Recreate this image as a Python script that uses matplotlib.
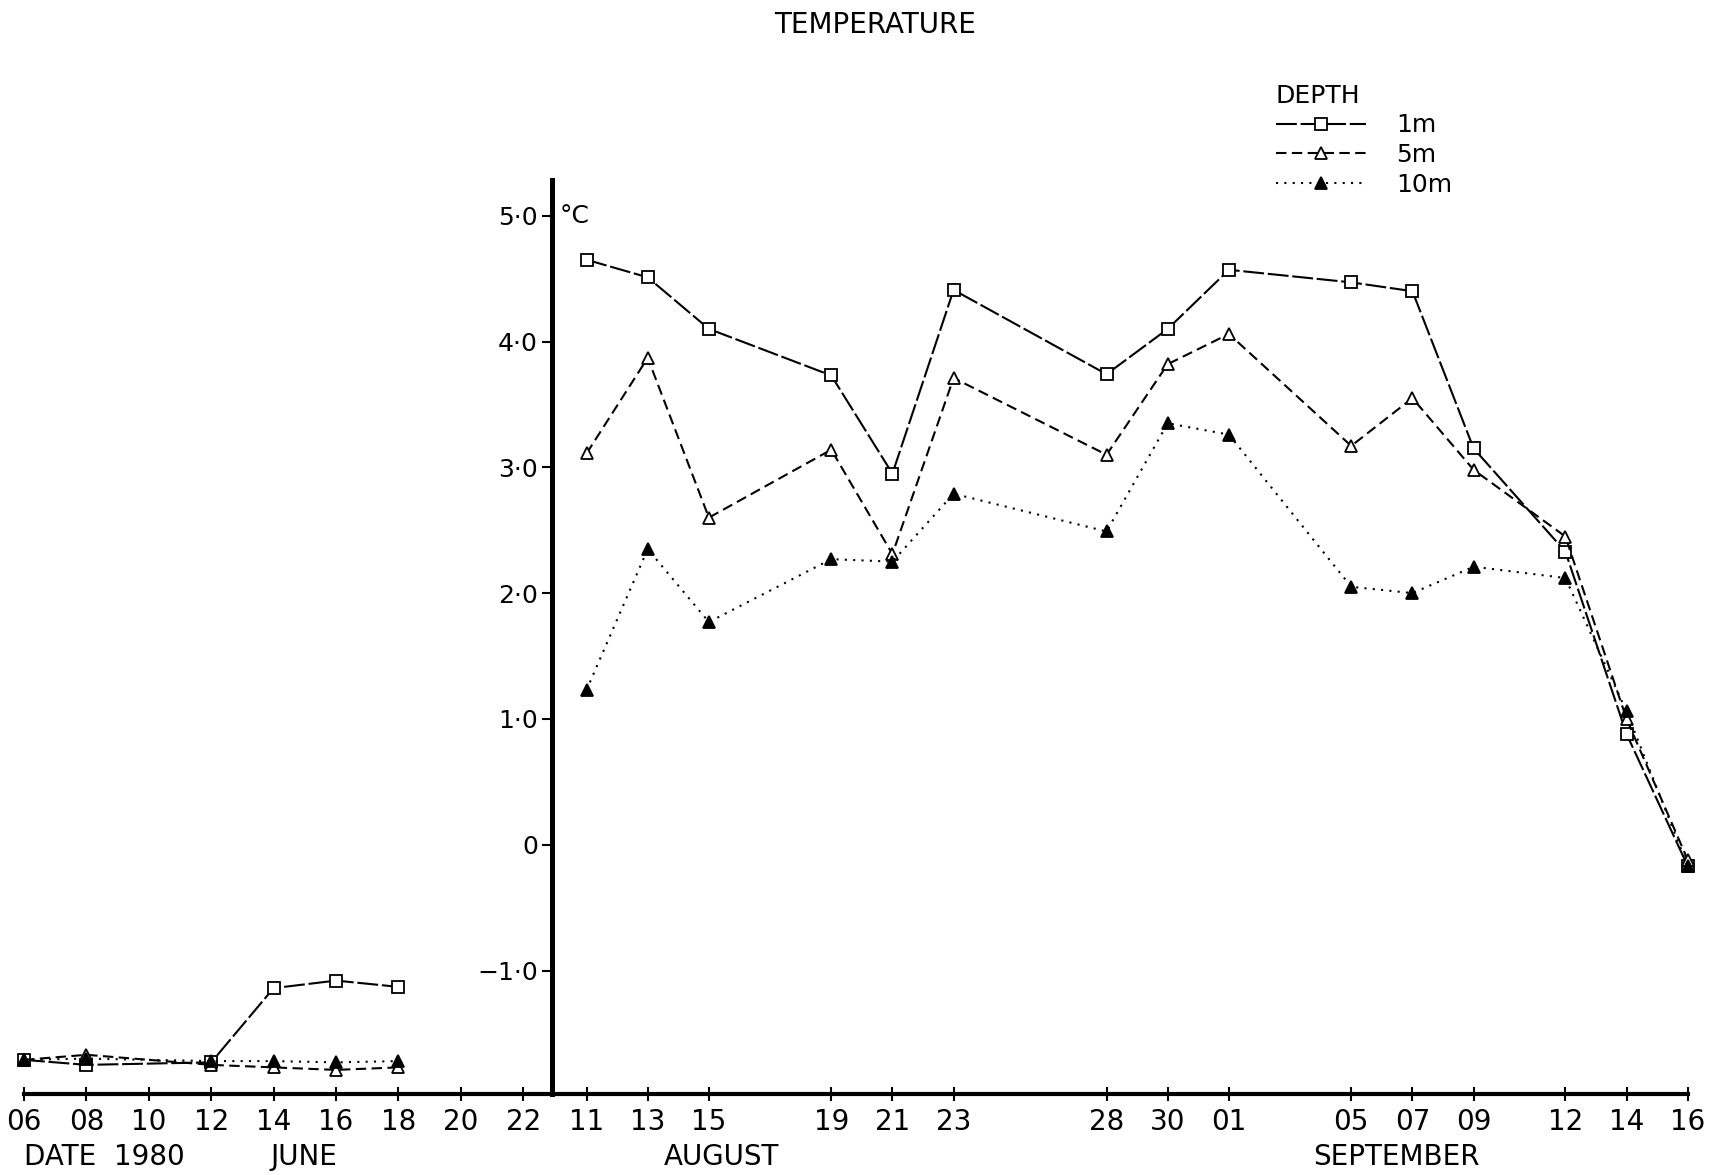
import matplotlib
matplotlib.use("Agg")
import matplotlib.pyplot as plt
from matplotlib.lines import Line2D

# ---------------- data ----------------
june_days = [6, 8, 12, 14, 16, 18]
june_1m = [-1.71, -1.75, -1.73, -1.14, -1.08, -1.13]
june_5m = [-1.71, -1.67, -1.75, -1.77, -1.79, -1.77]
june_10m = [-1.71, -1.70, -1.72, -1.72, -1.73, -1.72]

late_months = [8, 8, 8, 8, 8, 8, 8, 8, 9, 9, 9, 9, 9, 9, 9]
late_days = [11, 13, 15, 19, 21, 23, 28, 30, 1, 5, 7, 9, 12, 14, 16]
late_1m = [4.65, 4.51, 4.10, 3.73, 2.95, 4.41, 3.74, 4.10, 4.57, 4.47, 4.40, 3.15, 2.33, 0.88, -0.17]
late_5m = [3.11, 3.87, 2.60, 3.14, 2.31, 3.71, 3.10, 3.82, 4.06, 3.17, 3.55, 2.98, 2.45, 1.00, -0.12]
late_10m = [1.23, 2.35, 1.77, 2.27, 2.25, 2.79, 2.49, 3.35, 3.26, 2.05, 2.00, 2.21, 2.12, 1.06, -0.17]

june_tick_days = [6, 8, 10, 12, 14, 16, 18, 20, 22]
y_ticks = [5.0, 4.0, 3.0, 2.0, 1.0, 0.0, -1.0]
y_tick_labels = ["5·0", "4·0", "3·0", "2·0", "1·0", "0", "−1·0"]
depth_labels = ["1m", "5m", "10m"]


# --------------- date -> axis position (broken time axis) ---------------
JUNE_STRETCH = 1.02
BREAK_POS = 23.25          # where the temperature axis stands
AUG_OFFSET = 13.39


def pos(month, day):
    if month == 6:
        return 6 + (day - 6) * JUNE_STRETCH
    if month == 8:
        return day + AUG_OFFSET
    return day + AUG_OFFSET + 31


june_x = [pos(6, d) for d in june_days]
late_x = [pos(m, d) for m, d in zip(late_months, late_days)]

NARROW = ["Liberation Sans Narrow", "DejaVu Sans"]
WIDE = ["DejaVu Sans"]

fig = plt.figure(figsize=(17.15, 11.75), dpi=100)
ax = fig.add_axes([0.0140, 0.0691, 0.9701, 0.7773])
ax.set_xlim(pos(6, 6), pos(9, 16))
ax.set_ylim(-1.98, 5.28)

styles = {
    "1m": dict(ls=(0, (10, 1.8)), marker="s", mfc="white", mec="black", ms=9),
    "5m": dict(ls=(0, (5, 2.6)), marker="^", mfc="white", mec="black", ms=9),
    "10m": dict(ls=(0, (1, 3)), marker="^", mfc="black", mec="black", ms=9),
}

for lab, jy, ly in zip(depth_labels, [june_1m, june_5m, june_10m],
                       [late_1m, late_5m, late_10m]):
    st = styles[lab]
    for xs, ys in ((june_x, jy), (late_x, ly)):
        ax.plot(xs, ys, color="black", lw=1.5, ls=st["ls"], marker=st["marker"],
                mfc=st["mfc"], mec=st["mec"], ms=st["ms"], mew=1.3,
                clip_on=False, zorder=3)

# spines
for s in ("top", "right"):
    ax.spines[s].set_visible(False)
ax.spines["left"].set_position(("data", BREAK_POS))
ax.spines["left"].set_linewidth(3.6)
ax.spines["bottom"].set_linewidth(3.0)

# y ticks
ax.set_yticks(y_ticks)
ax.set_yticklabels(y_tick_labels, family=WIDE, fontsize=18)
ax.tick_params(axis="y", direction="out", length=7, width=1.5, pad=3)

# x ticks
xt = [pos(6, d) for d in june_tick_days] + late_x
xl = ["%02d" % d for d in june_tick_days] + ["%02d" % d for d in late_days]
ax.set_xticks(xt)
ax.set_xticklabels(xl, family=NARROW, fontsize=20)
ax.tick_params(axis="x", direction="inout", length=10, width=1.5, pad=5)

# degree label
ax.text(BREAK_POS + 0.25, 5.0, "°C", ha="left", va="center", fontsize=18,
        family=WIDE)

# month / date labels
fig.text(24 / 1715, 1 - 1157 / 1175, "DATE  1980", ha="left", va="center",
         fontsize=20, family=NARROW)
fig.text(304 / 1715, 1 - 1157 / 1175, "JUNE", ha="center", va="center",
         fontsize=20, family=NARROW)
fig.text(721 / 1715, 1 - 1157 / 1175, "AUGUST", ha="center", va="center",
         fontsize=20, family=NARROW)
fig.text(1396 / 1715, 1 - 1157 / 1175, "SEPTEMBER", ha="center", va="center",
         fontsize=20, family=NARROW)

# title
fig.text(875 / 1715, 1 - 25 / 1175, "TEMPERATURE", ha="center", va="center",
         fontsize=20, family=WIDE)

# legend
handles = [Line2D([], [], color="black", lw=1.5, ls=styles[l]["ls"],
                  marker=styles[l]["marker"], mfc=styles[l]["mfc"],
                  mec="black", ms=8, mew=1.3) for l in depth_labels]
leg = ax.legend(handles, depth_labels, title="DEPTH", loc="upper left",
                bbox_to_anchor=(1276 / 1715, 1 - 84 / 1175),
                bbox_transform=fig.transFigure, frameon=False, fontsize=18,
                title_fontsize=18, handlelength=3.6, handletextpad=1.2,
                labelspacing=0.22, borderpad=0, borderaxespad=0,
                numpoints=1, alignment="left")

fig.savefig("out.png", dpi=100, facecolor="white")
